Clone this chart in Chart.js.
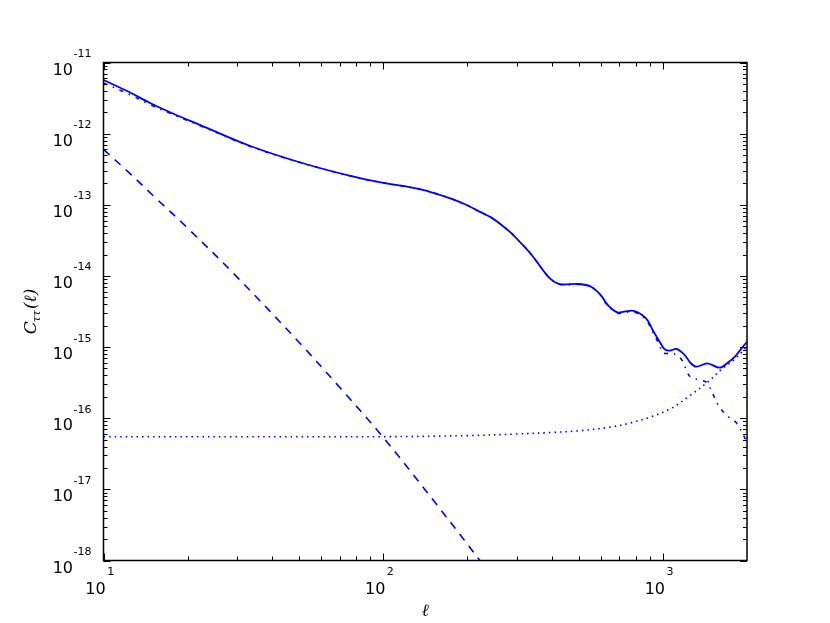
<!DOCTYPE html>
<html>
<head>
<meta charset="utf-8">
<script src="https://cdn.jsdelivr.net/npm/chart.js@4/dist/chart.umd.min.js"></script>
<style>
  body { margin: 0; background: #fff; }
  #wrap { width: 830px; height: 623px; }
</style>
</head>
<body>
<div id="wrap"><canvas id="cl-chart" width="830" height="623"></canvas></div>
<script>
// multipoles and spectra
const ellTotal = [10, 12.45, 14.67, 18.04, 22.2, 33.5, 50.6, 76.4, 98, 136, 174, 198, 222, 243, 263, 286, 310, 338, 366, 389, 409, 433, 502, 554, 600, 636, 688, 728, 792, 871, 920, 974, 1016, 1059, 1118, 1198, 1254, 1318, 1444, 1598, 1705, 1808, 1900, 2000];
const clTotal = [5.67e-12, 3.79e-12, 2.70e-12, 1.86e-12, 1.32e-12, 6.70e-13, 3.93e-13, 2.54e-13, 2.06e-13, 1.65e-13, 1.23e-13, 1.0e-13, 7.96e-14, 6.65e-14, 5.33e-14, 4.05e-14, 2.93e-14, 2.02e-14, 1.33e-14, 9.78e-15, 8.3e-15, 7.6e-15, 7.7e-15, 7.05e-15, 5.39e-15, 3.9e-15, 3.08e-15, 3.15e-15, 3.21e-15, 2.54e-15, 1.74e-15, 1.19e-15, 9.3e-16, 8.9e-16, 9.4e-16, 7.73e-16, 6.03e-16, 5.3e-16, 5.9e-16, 5.13e-16, 6.03e-16, 7.3e-16, 9.3e-16, 1.19e-15];

const ellSignal = [10, 12.45, 14.67, 18.04, 22.2, 33.5, 50.6, 76.4, 98, 136, 174, 198, 222, 243, 263, 286, 310, 338, 366, 389, 409, 433, 502, 554, 600, 636, 688, 728, 792, 871, 920, 974, 1000, 1090, 1163, 1254, 1365, 1444, 1582, 1705, 1833, 2000];
const clSignal = [5.15e-12, 3.52e-12, 2.56e-12, 1.80e-12, 1.29e-12, 6.60e-13, 3.92e-13, 2.54e-13, 2.06e-13, 1.65e-13, 1.23e-13, 1.0e-13, 7.96e-14, 6.65e-14, 5.33e-14, 4.05e-14, 2.93e-14, 2.02e-14, 1.33e-14, 9.78e-15, 8.3e-15, 7.55e-15, 7.6e-15, 7.0e-15, 5.3e-15, 3.8e-15, 3.0e-15, 3.05e-15, 3.1e-15, 2.4e-15, 1.64e-15, 1.05e-15, 8.3e-16, 8.1e-16, 6.8e-16, 3.8e-16, 3.44e-16, 3.1e-16, 1.5e-16, 1.07e-16, 8.6e-17, 4.6e-17];

const ellDashed = [10, 12.45, 15, 20, 30, 50, 70, 100, 150, 220, 260];
const clDashed = [6.0e-13, 2.74e-13, 1.36e-13, 4.7e-14, 9.7e-15, 1.17e-15, 2.7e-16, 5.4e-17, 7.3e-18, 1.04e-18, 4.2e-19];

const ellNoise = [10, 30, 100, 200, 300, 400, 510, 650, 768, 910, 1073, 1254, 1444, 1616, 1816, 2000];
const clNoise = [5.5e-17, 5.5e-17, 5.5e-17, 5.7e-17, 6.0e-17, 6.3e-17, 6.7e-17, 7.5e-17, 8.6e-17, 1.05e-16, 1.38e-16, 2.1e-16, 3.2e-16, 4.8e-16, 6.9e-16, 1.01e-15];

const xTickExps = [1, 2, 3];
const yTickExps = [-18, -17, -16, -15, -14, -13, -12, -11];

function pts(xs, ys) {
  return xs.map(function (x, i) { return { x: x, y: ys[i] }; });
}

const blue = "#0000ff";

// frame, inward ticks and power-of-ten labels, matplotlib style
const axesPlugin = {
  id: "axesPlugin",
  afterDraw: function (chart) {
    const ctx = chart.ctx;
    const area = chart.chartArea;
    const xs = chart.scales.x;
    const ys = chart.scales.y;

    ctx.save();
    ctx.strokeStyle = "#000";
    ctx.lineWidth = 1;

    function tickX(v, len) {
      const px = Math.round(xs.getPixelForValue(v)) + 0.5;
      ctx.beginPath();
      ctx.moveTo(px, area.bottom); ctx.lineTo(px, area.bottom - len);
      ctx.moveTo(px, area.top); ctx.lineTo(px, area.top + len);
      ctx.stroke();
    }
    function tickY(v, len) {
      const py = Math.round(ys.getPixelForValue(v)) + 0.5;
      ctx.beginPath();
      ctx.moveTo(area.left, py); ctx.lineTo(area.left + len, py);
      ctx.moveTo(area.right, py); ctx.lineTo(area.right - len, py);
      ctx.stroke();
    }

    xTickExps.forEach(function (e) {
      tickX(Math.pow(10, e), 7);
      for (let k = 2; k <= 9; k++) {
        const v = k * Math.pow(10, e);
        if (v < xs.max) tickX(v, 4);
      }
    });
    yTickExps.forEach(function (e) {
      tickY(Math.pow(10, e), 7);
      if (e < -11) {
        for (let k = 2; k <= 9; k++) tickY(k * Math.pow(10, e), 4);
      }
    });

    ctx.lineWidth = 1.5;
    ctx.strokeRect(area.left, area.top, area.right - area.left, area.bottom - area.top);

    ctx.fillStyle = "#000";
    ctx.textBaseline = "alphabetic";
    const big = "16px 'DejaVu Sans'";
    const small = "11px 'DejaVu Sans'";

    // y labels
    yTickExps.forEach(function (e) {
      const py = ys.getPixelForValue(Math.pow(10, e));
      const ex = String(e);
      ctx.font = small;
      const ew = ctx.measureText(ex).width;
      const right = 91.5;
      ctx.textAlign = "left";
      ctx.fillText(ex, right - ew, py - 5.5);
      ctx.font = big;
      ctx.textAlign = "right";
      ctx.fillText("10", right - ew - 0.5, py + 12);
    });

    // x labels
    xTickExps.forEach(function (e) {
      const px = xs.getPixelForValue(Math.pow(10, e));
      const ex = String(e);
      ctx.font = big;
      const bw = ctx.measureText("10").width;
      ctx.font = small;
      const ew = ctx.measureText(ex).width;
      const left = px - 4 - (bw + ew + 1) / 2;
      ctx.font = big;
      ctx.textAlign = "left";
      ctx.fillText("10", left, 593.5);
      ctx.font = small;
      ctx.fillText(ex, left + bw + 1.5, 575);
    });

    // axis titles
    ctx.font = "italic 17px 'DejaVu Serif'";
    ctx.textAlign = "center";
    ctx.fillText("\u2113", (area.left + area.right) / 2, 616);

    ctx.translate(36, (area.top + area.bottom) / 2);
    ctx.rotate(-Math.PI / 2);
    const f1 = "italic 17px 'DejaVu Serif'";
    const f2 = "italic 11px 'DejaVu Serif'";
    ctx.font = f1;
    const wC = ctx.measureText("C").width;
    const wP = ctx.measureText("(\u2113)").width;
    ctx.font = f2;
    const wS = ctx.measureText("\u03c4\u03c4").width;
    let x0 = -(wC + wS + wP) / 2;
    ctx.textAlign = "left";
    ctx.font = f1;
    ctx.fillText("C", x0, 0);
    ctx.font = f2;
    ctx.fillText("\u03c4\u03c4", x0 + wC - 1, 4);
    ctx.font = f1;
    ctx.fillText("(\u2113)", x0 + wC + wS, 0);
    ctx.restore();
  }
};

function lineSet(label, data, dash, width) {
  return {
    label: label,
    data: data,
    borderColor: blue,
    borderWidth: width,
    borderDash: dash,
    pointRadius: 0,
    tension: 0.35,
    fill: false
  };
}

new Chart(document.getElementById("cl-chart"), {
  type: "line",
  data: {
    datasets: [
      lineSet("total", pts(ellTotal, clTotal), [], 1.8),
      lineSet("signal", pts(ellSignal, clSignal), [4, 6, 1.5, 6], 1.6),
      lineSet("dashed", pts(ellDashed, clDashed), [8, 7], 1.6),
      lineSet("noise", pts(ellNoise, clNoise), [1.5, 4], 1.6)
    ]
  },
  options: {
    responsive: false,
    animation: false,
    devicePixelRatio: 1,
    layout: {
      padding: { left: 103.5, right: 83, top: 62.5, bottom: 62.5 }
    },
    plugins: {
      legend: { display: false },
      tooltip: { enabled: false }
    },
    scales: {
      x: { type: "logarithmic", min: 10, max: 2000, display: false },
      y: { type: "logarithmic", min: 1e-18, max: 1e-11, display: false }
    }
  },
  plugins: [axesPlugin]
});
</script>
</body>
</html>
